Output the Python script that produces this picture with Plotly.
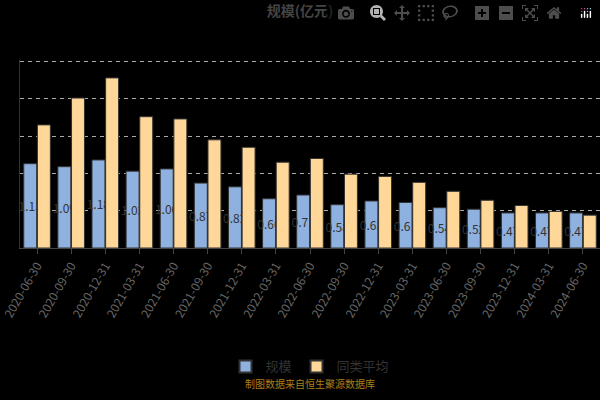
import plotly.graph_objects as go

# Categories and values
dates = ['2020-06-30', '2020-09-30', '2020-12-31', '2021-03-31', '2021-06-30',
         '2021-09-30', '2021-12-31', '2022-03-31', '2022-06-30', '2022-09-30',
         '2022-12-31', '2023-03-31', '2023-06-30', '2023-09-30', '2023-12-31',
         '2024-03-31', '2024-06-30']
scale = [1.13, 1.09, 1.18, 1.03, 1.06, 0.87, 0.82, 0.66, 0.71, 0.58,
         0.63, 0.61, 0.54, 0.52, 0.47, 0.47, 0.47]
peer_avg = [1.65, 2.01, 2.28, 1.76, 1.73, 1.45, 1.35, 1.15, 1.20, 0.99,
            0.96, 0.88, 0.76, 0.64, 0.57, 0.49, 0.44]

fig = go.Figure()
fig.add_trace(go.Bar(
    x=dates, y=scale, name='规模',
    marker=dict(color='#8fb1e0', line=dict(color='#333333', width=1)),
    text=[f'{v:.2f}' for v in scale], textposition='inside',
    insidetextanchor='middle', textangle=0,
    textfont=dict(color='#333333', size=12),
))
fig.add_trace(go.Bar(
    x=dates, y=peer_avg, name='同类平均',
    marker=dict(color='#ffd799', line=dict(color='#333333', width=1)),
))

fig.update_layout(
    width=600, height=400,
    paper_bgcolor='black', plot_bgcolor='black',
    font=dict(family='Noto Sans CJK SC', color='#666666'),
    title=dict(text='<b>规模(亿元)</b>', x=0.5, y=0.985, xanchor='center', yanchor='top',
               font=dict(size=14, color='#444444')),
    margin=dict(l=5, r=0, t=60, b=152),
    barmode='group', bargap=0.2, bargroupgap=0.05,
    uniformtext=dict(mode='show', minsize=12),
    showlegend=True,
    legend=dict(orientation='h', x=0.5, xanchor='center', y=-0.63, yanchor='middle',
                font=dict(size=13, color='#333333'), itemsizing='constant'),
    annotations=[dict(text='制图数据来自恒生聚源数据库', x=0.5, y=-0.77,
                      xref='paper', yref='paper', showarrow=False,
                      font=dict(size=10, color='#a8801c'))],
)
fig.update_xaxes(type='category', range=[-0.5, 16.5], tickangle=-60,
                 tickfont=dict(size=12, color='#666666'),
                 showline=True, linecolor='#444444', ticks='outside', tickcolor='#444444',
                 showgrid=False)
fig.update_yaxes(range=[0, 2.52], showticklabels=False, showline=True, linecolor='#333333',
                 gridcolor='#aaaaaa', griddash='4px,4px', dtick=0.5, zeroline=False)

fig.write_html("out.html",
               post_script="document.body.style.margin='0';document.body.style.background='black';")
